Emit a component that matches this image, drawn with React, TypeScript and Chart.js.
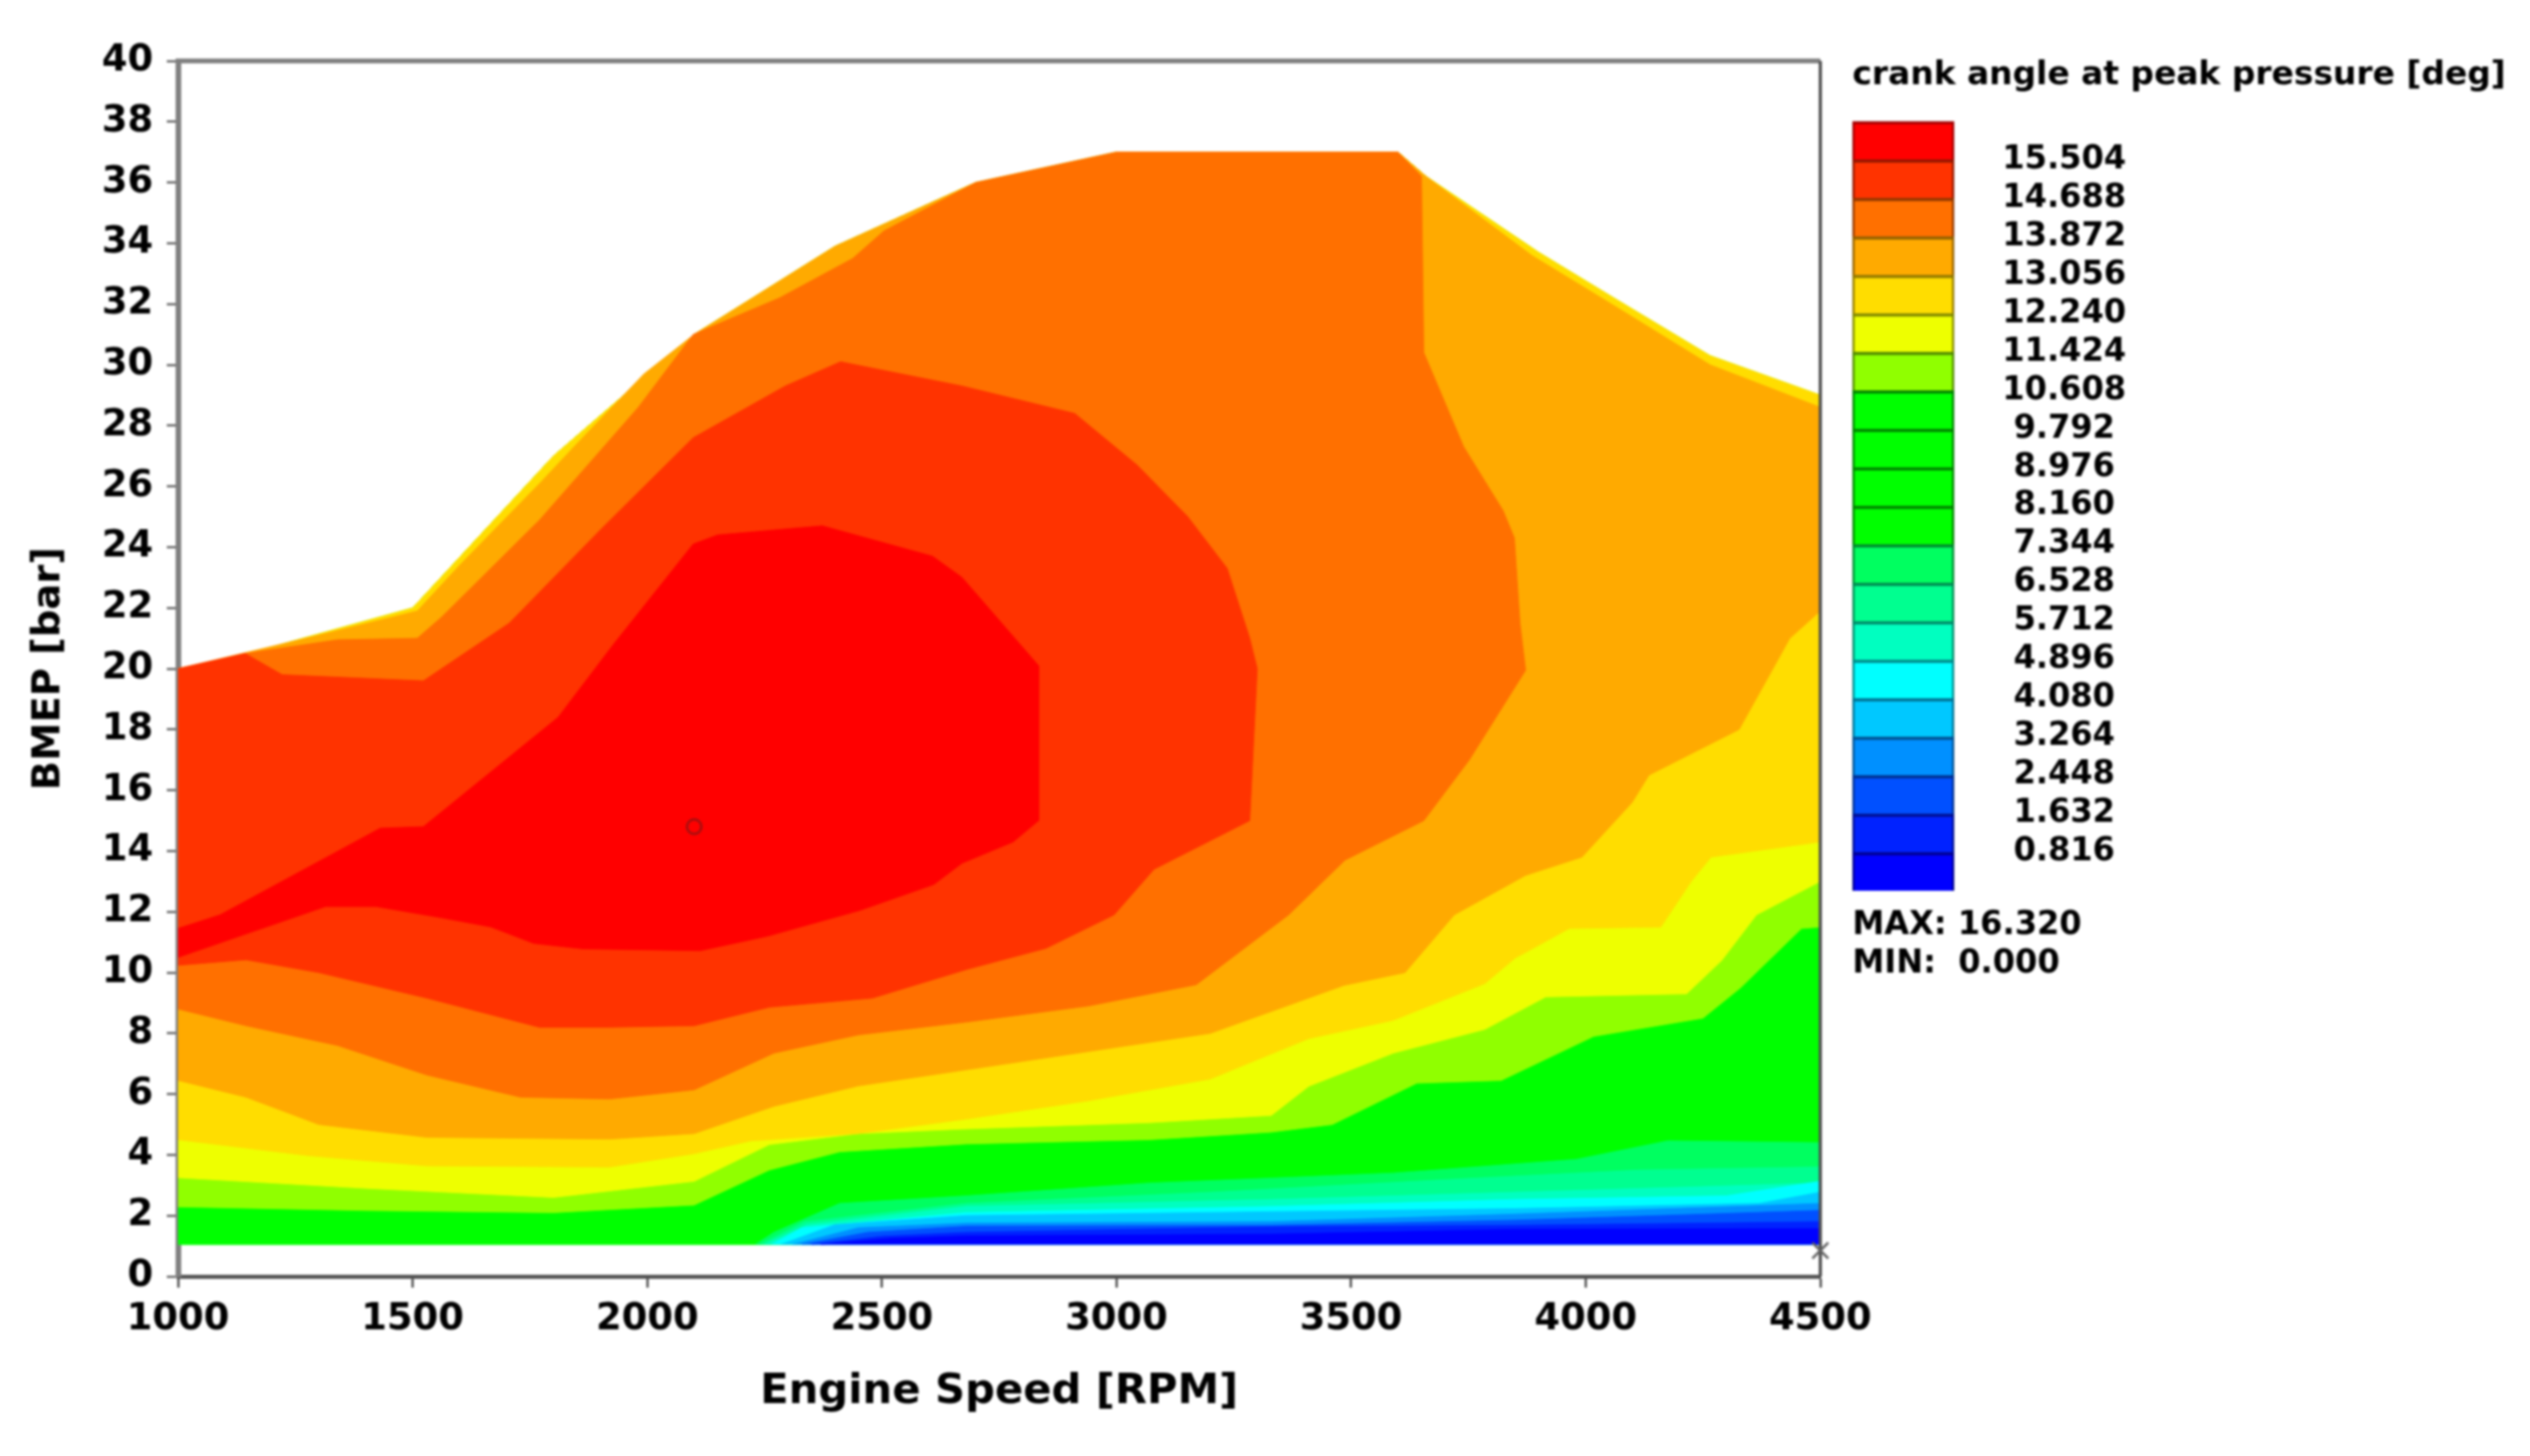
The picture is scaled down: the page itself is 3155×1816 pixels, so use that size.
import React, { useEffect, useRef } from "react";
import { Chart, registerables } from "chart.js";

Chart.register(...registerables);

type P = [number, number];

const xTicks = [1000, 1500, 2000, 2500, 3000, 3500, 4000, 4500];
const yTicks = [0, 2, 4, 6, 8, 10, 12, 14, 16, 18, 20, 22, 24, 26, 28, 30, 32, 34, 36, 38, 40];
const bottomEdge = 1.05;

const envelope: P[] = [[1000, 20], [1150, 20.5], [1500, 22], [1800, 27], [2100, 31], [2400, 33.9], [2700, 36], [3000, 37], [3600, 37], [3660, 36.2], [3900, 33.7], [4060, 32.2], [4265, 30.3], [4500, 29]];

const limeEdge: P[] = [[1000, 2.29], [1400, 2.17], [1800, 2.1], [2100, 2.35], [2260, 3.5], [2410, 4.1], [2680, 4.36], [3070, 4.5], [3330, 4.75], [3460, 5], [3640, 6.36], [3820, 6.45], [4017, 7.9], [4250, 8.5], [4330, 9.5], [4460, 11.45], [4500, 11.5]];
const yellowEdge: P[] = [[1000, 3.25], [1400, 2.9], [1800, 2.6], [2100, 3.13], [2260, 4.34], [2450, 4.7], [2670, 4.85], [3070, 5.06], [3330, 5.3], [3410, 6.26], [3590, 7.35], [3785, 8.13], [3915, 9.2], [4215, 9.3], [4290, 10.4], [4364, 11.9], [4500, 13]];
const goldEdge: P[] = [[1000, 4.5], [1275, 3.98], [1530, 3.64], [1920, 3.6], [2100, 4.04], [2220, 4.46], [2450, 4.7], [2680, 5.18], [2940, 5.78], [3200, 6.5], [3410, 7.83], [3590, 8.43], [3785, 9.64], [3850, 10.48], [3965, 11.45], [4160, 11.5], [4225, 13], [4267, 13.8], [4500, 14.3]];
const amberEdge: P[] = [[1000, 6.45], [1145, 5.9], [1300, 5], [1530, 4.58], [1920, 4.52], [2100, 4.7], [2270, 5.6], [2450, 6.27], [2680, 6.8], [3200, 8], [3485, 9.58], [3615, 10], [3720, 11.9], [3872, 13.2], [3992, 13.8], [4099, 15.6], [4135, 16.5], [4327, 18], [4399, 20], [4435, 21], [4500, 21.9]];
const amberTop: P[] = [[4500, 28.6], [4265, 30], [4060, 31.95], [3885, 33.6], [3660, 36.2], [3600, 37], [3000, 37], [2700, 36], [2400, 33.9], [2100, 31], [1993, 29.7], [1850, 27.4], [1771, 26.1], [1600, 23.4], [1510, 21.9], [1300, 21.1], [1000, 20]];
const orangeEdge: P[] = [[1000, 8.8], [1145, 8.25], [1340, 7.6], [1530, 6.63], [1730, 5.9], [1920, 5.84], [2100, 6.14], [2270, 7.35], [2450, 7.95], [2680, 8.37], [2940, 8.9], [3170, 9.6], [3367, 11.9], [3487, 13.7], [3655, 15], [3752, 17], [3872, 19.95], [3860, 21.5], [3848, 24.3], [3824, 25.2], [3740, 27.3], [3655, 30.4], [3650, 36.2]];
const orangeTop: P[] = [[3600, 37], [3000, 37], [2700, 36], [2504, 34.4], [2438, 33.5], [2282, 32.2], [2098, 31], [1981, 28.6], [1771, 24.9], [1562, 21.7], [1510, 21], [1340, 20.95], [1143, 20.5], [1000, 20]];
const redOrangeShape: P[] = [[1000, 10.24], [1145, 10.42], [1300, 10], [1530, 9.16], [1770, 8.2], [1920, 8.2], [2100, 8.25], [2260, 8.86], [2480, 9.16], [2680, 10.1], [2850, 10.8], [2995, 11.9], [3080, 13.4], [3284, 15], [3300, 20], [3284, 21], [3236, 23.3], [3152, 25], [3044, 26.7], [2911, 28.4], [2671, 29.3], [2412, 30.1], [2294, 29.3], [2098, 27.6], [1902, 24.6], [1706, 21.5], [1523, 19.6], [1222, 19.8], [1143, 20.5], [1000, 20]];
const redShape: P[] = [[1000, 11.45], [1090, 11.9], [1431, 14.75], [1523, 14.8], [1810, 18.4], [1928, 20.8], [2098, 24.1], [2150, 24.4], [2373, 24.7], [2608, 23.7], [2671, 23], [2834, 20.1], [2834, 15], [2780, 14.3], [2671, 13.6], [2611, 12.9], [2454, 12.05], [2257, 11.2], [2113, 10.72], [1863, 10.78], [1758, 10.96], [1667, 11.5], [1563, 11.8], [1423, 12.17], [1314, 12.17], [1000, 10.5]];

const mint1Edge: P[] = [[2230, 1.05], [2270, 1.45], [2410, 2.4], [2680, 2.65], [3070, 3.07], [3590, 3.4], [3980, 3.85], [4175, 4.46], [4500, 4.4]];
const mint2Edge: P[] = [[2240, 1.05], [2336, 1.8], [2680, 2.4], [3200, 2.77], [3720, 3.2], [4110, 3.5], [4500, 3.6]];
const mint3Edge: P[] = [[2250, 1.05], [2340, 1.7], [2680, 2.3], [3330, 2.53], [3850, 2.77], [4500, 3.07]];
const cyanEdge: P[] = [[2265, 1.05], [2330, 1.6], [2680, 2.1], [3330, 2.3], [3850, 2.53], [4300, 2.65], [4500, 3.13]];
const sky1Edge: P[] = [[2285, 1.05], [2400, 1.7], [2680, 2], [3850, 2.23], [4370, 2.4], [4500, 2.77]];
const sky2Edge: P[] = [[2310, 1.05], [2450, 1.6], [2680, 1.75], [3330, 1.8], [3850, 2.05], [4500, 2.4]];
const blue1Edge: P[] = [[2330, 1.05], [2470, 1.45], [2680, 1.65], [3330, 1.68], [3850, 1.85], [4500, 2.17]];
const blue2Edge: P[] = [[2350, 1.05], [2500, 1.32], [2680, 1.45], [3330, 1.63], [3850, 1.68], [4500, 1.8]];
const blue3Edge: P[] = [[2370, 1.05], [2520, 1.25], [2680, 1.33], [3330, 1.39], [3850, 1.55], [4500, 1.57]];

const peakPoint: P = [2100, 14.8];
const limitPoint: P = [4500, 0.85];

const legendLevels = [0.816, 1.632, 2.448, 3.264, 4.08, 4.896, 5.712, 6.528, 7.344, 8.16, 8.976, 9.792, 10.608, 11.424, 12.24, 13.056, 13.872, 14.688, 15.504];
const legendMax = 16.32;
const legendBand = 0.816;
const legendColors = ["#0000ff", "#0022ff", "#0050ff", "#0090ff", "#00c8ff", "#00ffff", "#00ffc0", "#00ff90", "#00ff60", "#00ff00", "#00ff00", "#00ff00", "#00ff00", "#90ff00", "#eeff00", "#ffdd00", "#ffaa00", "#ff7000", "#ff3300", "#ff0000"];
const legendEdges = ["#000090", "#001090", "#003090", "#005090", "#007090", "#008888", "#008868", "#008850", "#008830", "#008000", "#008000", "#008000", "#008000", "#508800", "#808800", "#907800", "#906000", "#903800", "#901800", "#a00000"];

const titleColor = "#000000";
const fontFamily = "'DejaVu Sans'";

const toXY = (pts: P[]) => pts.map(([x, y]) => ({ x, y }));

function App() {
  const mainRef = useRef<HTMLCanvasElement>(null);
  const legendRef = useRef<HTMLCanvasElement>(null);

  useEffect(() => {
    const reversedEnvelope = [...envelope].reverse();
    const bottomLayer = (edge: P[]): P[] => [...edge, [4500, bottomEdge]];
    const layers: [P[], string][] = [
      [[...envelope, [4500, bottomEdge], [1000, bottomEdge]], "#00ff00"],
      [[...limeEdge, ...reversedEnvelope], "#90ff00"],
      [[...yellowEdge, ...reversedEnvelope], "#eeff00"],
      [[...goldEdge, ...reversedEnvelope], "#ffdd00"],
      [[...amberEdge, ...amberTop], "#ffaa00"],
      [[...orangeEdge, ...orangeTop], "#ff7000"],
      [redOrangeShape, "#ff3300"],
      [redShape, "#ff0000"],
      [bottomLayer(mint1Edge), "#00ff60"],
      [bottomLayer(mint2Edge), "#00ff90"],
      [bottomLayer(mint3Edge), "#00ffc0"],
      [bottomLayer(cyanEdge), "#00ffff"],
      [bottomLayer(sky1Edge), "#00c8ff"],
      [bottomLayer(sky2Edge), "#0090ff"],
      [bottomLayer(blue1Edge), "#0050ff"],
      [bottomLayer(blue2Edge), "#0022ff"],
      [bottomLayer(blue3Edge), "#0000ff"],
    ];

    const polygonSets = layers.map(([pts, color], i) => ({
      data: toXY(pts),
      showLine: true,
      fill: "shape" as any,
      backgroundColor: color,
      borderColor: color,
      borderWidth: 1,
      pointRadius: 0,
      tension: 0,
      order: 100 - i,
    }));

    const main = new Chart(mainRef.current!, {
      type: "scatter",
      data: {
        datasets: [
          ...polygonSets,
          { data: toXY([[1000, 40], [4500, 40]]), showLine: true, borderColor: "#808080", borderWidth: 6, pointRadius: 0, order: 5, clip: false } as any,
          { data: toXY([[4500, 0], [4500, 40]]), showLine: true, borderColor: "#505050", borderWidth: 4, pointRadius: 0, order: 4, clip: false } as any,
          { data: toXY([peakPoint]), pointStyle: "circle", pointRadius: 9, borderColor: "#a01010", borderWidth: 3, backgroundColor: "rgba(0,0,0,0)", order: 3, clip: false } as any,
          { data: toXY([limitPoint]), pointStyle: "cross", rotation: 45, pointRadius: 14, borderColor: "#606060", borderWidth: 3, order: 2, clip: false } as any,
        ],
      },
      options: {
        responsive: false,
        animation: false,
        layout: { padding: { top: 76, right: 885, bottom: 0, left: 0 } },
        plugins: { legend: { display: false }, tooltip: { enabled: false }, title: { display: false } },
        scales: {
          x: {
            type: "linear",
            min: 1000,
            max: 4500,
            afterBuildTicks: (s: any) => { s.ticks = xTicks.map((value) => ({ value })); },
            afterFit: (s: any) => { s.height = 224; },
            grid: { display: true, drawOnChartArea: false, tickLength: 14, tickColor: "#555555", tickWidth: 3 },
            border: { display: true, color: "#505050", width: 5 },
            ticks: { color: "#000", padding: 12, maxRotation: 0, callback: (v: any) => String(v), font: { family: fontFamily, weight: "bold", size: 46 } },
            title: { display: true, text: "Engine Speed [RPM]", color: titleColor, padding: { top: 0, bottom: 48 }, font: { family: fontFamily, weight: "bold", size: 52 } },
          },
          y: {
            type: "linear",
            min: 0,
            max: 40,
            afterBuildTicks: (s: any) => { s.ticks = yTicks.map((value) => ({ value })); },
            afterFit: (s: any) => { s.width = 222; },
            grid: { display: true, drawOnChartArea: false, tickLength: 14, tickColor: "#707070", tickWidth: 3 },
            border: { display: true, color: "#808080", width: 7 },
            ticks: { color: "#000", padding: 17, callback: (v: any) => String(v), font: { family: fontFamily, weight: "bold", size: 46 } },
            title: { display: true, text: "BMEP [bar]", color: titleColor, padding: { top: 33, bottom: 0 }, font: { family: fontFamily, weight: "bold", size: 48 } },
          },
        },
      },
    });

    const legend = new Chart(legendRef.current!, {
      type: "bar",
      data: {
        labels: [""],
        datasets: legendColors.map((color, i) => ({
          data: [legendBand],
          backgroundColor: color,
          borderColor: legendEdges[i],
          borderWidth: { top: 4, left: 3, right: 3, bottom: 0 },
          borderSkipped: false,
          barPercentage: 1,
          categoryPercentage: 1,
        })) as any,
      },
      options: {
        responsive: false,
        animation: false,
        layout: { padding: { top: 68, right: 10, bottom: 1816 - 1111 - 120, left: 2310 } },
        plugins: {
          legend: { display: false },
          tooltip: { enabled: false },
          title: {
            display: true,
            text: "crank angle at peak pressure [deg]",
            align: "start",
            color: titleColor,
            padding: { top: 2, bottom: 32 },
            font: { family: fontFamily, weight: "bold", size: 41, lineHeight: 1.2 },
          },
          subtitle: {
            display: true,
            position: "bottom",
            text: ["MAX: 16.320", "MIN:  0.000"],
            align: "start",
            color: titleColor,
            padding: { top: 20, bottom: 4 },
            font: { family: fontFamily, weight: "bold", size: 40, lineHeight: 1.2 },
          },
        },
        scales: {
          x: {
            stacked: true,
            display: false,
          },
          y: {
            stacked: true,
            position: "right",
            min: 0,
            max: legendMax,
            afterBuildTicks: (s: any) => { s.ticks = legendLevels.map((value) => ({ value })); },
            afterFit: (s: any) => { s.width = 708; },
            grid: { display: false },
            border: { display: false },
            ticks: {
              color: "#000",
              padding: 52,
              crossAlign: "center",
              callback: (v: any) => Number(v).toFixed(3),
              font: { family: fontFamily, weight: "bold", size: 40 },
            },
          },
        },
      },
    });

    return () => {
      main.destroy();
      legend.destroy();
    };
  }, []);

  const style: React.CSSProperties = { position: "absolute", left: 0, top: 0, display: "block", filter: "blur(1.5px)" };
  return (
    <div>
      <canvas ref={mainRef} width={3155} height={1816} style={style} />
      <canvas ref={legendRef} width={3155} height={1816} style={style} />
    </div>
  );
}

export default App;
